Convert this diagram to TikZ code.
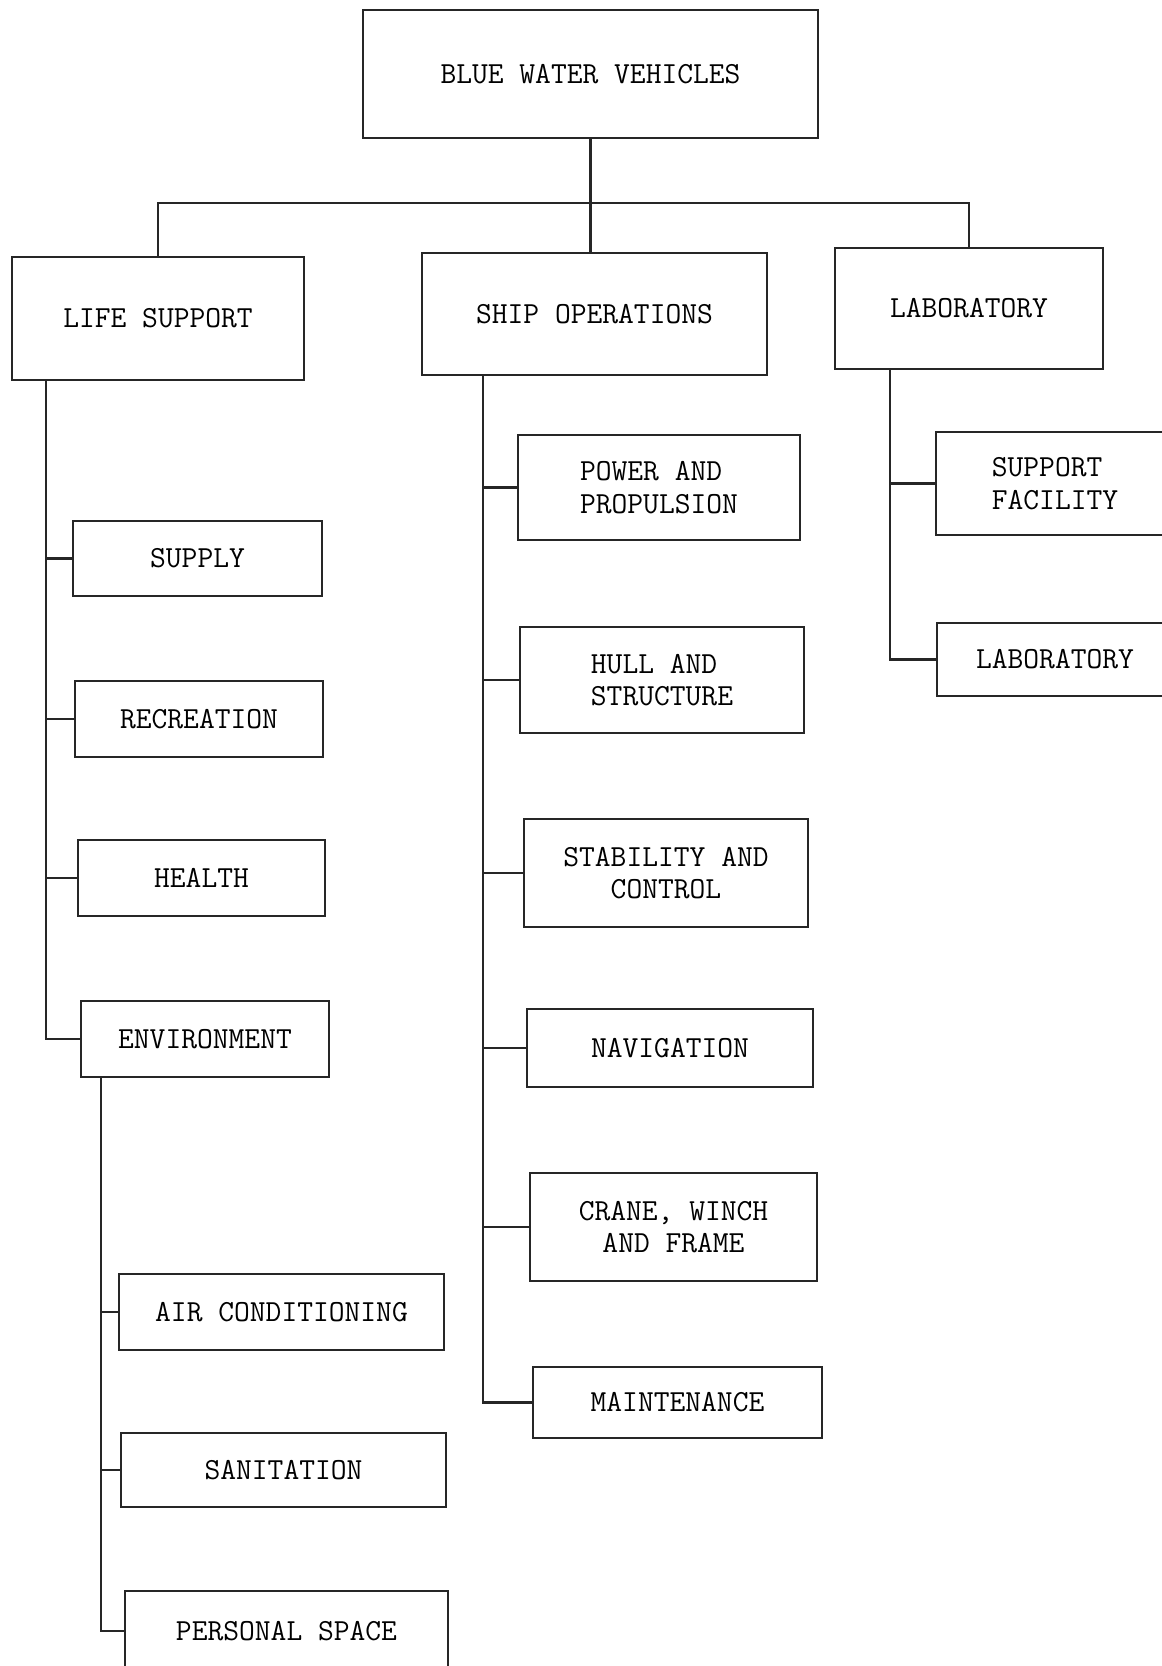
\documentclass[tikz,border=0pt]{standalone}
\usepackage{tikz}
\usetikzlibrary{calc}

\tikzset{
  box/.style={draw=black!85, text=black, line width=1.6pt, inner sep=0pt,
    font=\fontsize{21.8}{23}\selectfont\ttfamily},
  link/.style={draw=black!85, line width=1.6pt}
}

\begin{document}
\begin{tikzpicture}[x=0.025cm, y=-0.025cm]
        % Page frame
        \useasboundingbox (0,0) rectangle (1162,1666);

        % Top level
        \node[box, minimum width=11.375cm, minimum height=3.2cm] (bwv) at (590.5,74) {BLUE WATER VEHICLES};

        % Second level
        \node[box, minimum width=7.3cm, minimum height=3.075cm] (life) at (158,318.5) {LIFE SUPPORT};
        \node[box, minimum width=8.625cm, minimum height=3.05cm] (ship) at (594.5,314) {SHIP OPERATIONS};
        \node[box, minimum width=6.7cm, minimum height=3.025cm] (lab) at (969,308.5) {LABORATORY};

        % Life support branch
        \node[box, minimum width=6.225cm, minimum height=1.875cm] (supply) at (197.5,558.5) {SUPPLY};
        \node[box, minimum width=6.2cm, minimum height=1.9cm] (recreation) at (199,719) {RECREATION};
        \node[box, minimum width=6.175cm, minimum height=1.9cm] (health) at (201.5,878) {HEALTH};
        \node[box, minimum width=6.2cm, minimum height=1.9cm] (environment) at (205,1039) {ENVIRONMENT};
        \node[box, minimum width=8.125cm, minimum height=1.9cm] (aircond) at (281.5,1312) {AIR CONDITIONING};
        \node[box, minimum width=8.125cm, minimum height=1.85cm] (sanitation) at (283.5,1470) {SANITATION};
        \node[box, minimum width=8.075cm, minimum height=2cm] (personal) at (286.5,1631) {PERSONAL SPACE};

        % Ship operations branch
        \node[box, align=left, minimum width=7.05cm, minimum height=2.625cm] (power) at (659,487.5) {POWER AND\\PROPULSION};
        \node[box, align=left, minimum width=7.1cm, minimum height=2.65cm] (hull) at (662,680) {HULL AND\\STRUCTURE};
        \node[box, align=center, minimum width=7.1cm, minimum height=2.7cm] (stability) at (666,873) {STABILITY AND\\CONTROL};
        \node[box, minimum width=7.15cm, minimum height=1.95cm] (navigation) at (670,1048) {NAVIGATION};
        \node[box, align=center, minimum width=7.175cm, minimum height=2.7cm] (crane) at (673.5,1227) {CRANE, WINCH\\AND FRAME};
        \node[box, minimum width=7.225cm, minimum height=1.775cm] (maintenance) at (677.5,1402.5) {MAINTENANCE};

        % Laboratory branch
        \node[box, align=left, minimum width=5.95cm, minimum height=2.575cm] (support) at (1055,483.5) {SUPPORT\\FACILITY};
        \node[box, minimum width=5.9cm, minimum height=1.825cm] (labsub) at (1055,659.5) {LABORATORY};

        % Top connectors
        \coordinate (bus) at (590.5,203);
        \draw[link] (bwv.south) -- (bwv.south |- ship.north);
        \draw[link] (life.north) |- (bus) -| (lab.north);

        % Spines and stubs
        \foreach \c in {supply,recreation,health,environment}
        {
            \draw[link] ($(life.south west)+(35,0)$) |- (\c.west);
        }
        \foreach \c in {aircond,sanitation,personal}
        {
            \draw[link] ($(environment.south west)+(21,0)$) |- (\c.west);
        }
        \foreach \c in {power,hull,stability,navigation,crane,maintenance}
        {
            \draw[link] ($(ship.south west)+(62,0)$) |- (\c.west);
        }
        \foreach \c in {support,labsub}
        {
            \draw[link] ($(lab.south west)+(56,0)$) |- (\c.west);
        }
\end{tikzpicture}
\end{document}
